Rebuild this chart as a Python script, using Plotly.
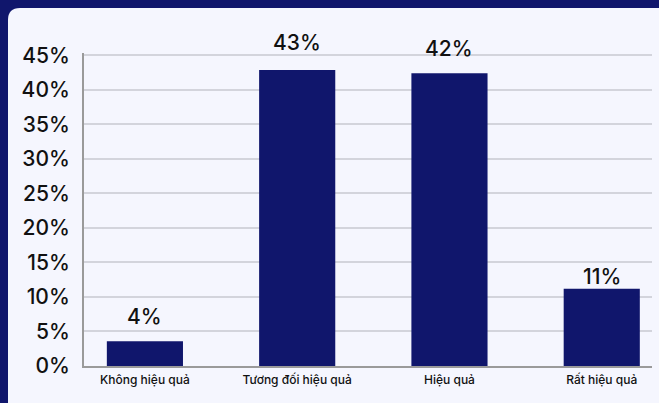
import plotly.graph_objects as go

# Survey results: perceived effectiveness
categories = ["Không hiệu quả", "Tương đối hiệu quả", "Hiệu quả", "Rất hiệu quả"]
shares = [3.6, 42.9, 42.4, 11.2]
tick_values = [0, 5, 10, 15, 20, 25, 30, 35, 40, 45]
tick_labels = [f"{v}%" for v in tick_values]

# label lift above each bar top, in pixels
label_lift = [25, 27, 25, 12]

NAVY = "#10166c"
PANEL = "#f5f6fe"
FONT = "Inter"

W, H = 659, 403
ML, MR, MT, MB = 84, 7, 53, 37

fig = go.Figure()
fig.add_trace(go.Bar(
    x=list(range(len(categories))),
    y=shares,
    width=0.5,
    marker=dict(color=NAVY, line=dict(width=0)),
    hoverinfo="skip",
))

for i, v in enumerate(shares):
    fig.add_annotation(
        x=i, y=v, xref="x", yref="y",
        text=f"{v:.0f}%",
        showarrow=False,
        yanchor="middle",
        yshift=label_lift[i],
        font=dict(family=FONT, size=21, color="#111111", weight=500),
    )

# light rounded panel behind the chart (paper coordinates)
pw, ph = W - ML - MR, H - MT - MB
def px(xp):
    return (xp - ML) / pw
def py(yp):
    return 1 - (yp - MT) / ph

x0, y0, x1, y1, r = 8, 8, W + 20, H + 20, 12
path = (
    f"M {px(x0)},{py(y0 + r)} "
    f"Q {px(x0)},{py(y0)} {px(x0 + r)},{py(y0)} "
    f"L {px(x1)},{py(y0)} L {px(x1)},{py(y1)} L {px(x0)},{py(y1)} Z"
)
fig.add_shape(type="path", path=path, xref="paper", yref="paper",
              fillcolor=PANEL, line=dict(width=0), layer="below")

fig.update_layout(
    width=W, height=H,
    margin=dict(l=ML, r=MR, t=MT, b=MB, pad=0),
    paper_bgcolor=NAVY,
    plot_bgcolor="rgba(0,0,0,0)",
    showlegend=False,
    bargap=0.5,
    font=dict(family=FONT, color="#111111"),
)
fig.update_xaxes(
    range=[-0.40, 3.33],
    tickmode="array",
    tickvals=list(range(len(categories))),
    ticktext=categories,
    tickfont=dict(family=FONT, size=12, color="#111111", weight=500),
    showgrid=False,
    showline=True, linecolor="#9a9a9a", linewidth=2,
    ticks="", ticklabelstandoff=2,
    zeroline=False, fixedrange=True,
)
fig.update_yaxes(
    range=[0, 45.35],
    tickmode="array",
    tickvals=tick_values,
    ticktext=tick_labels,
    tickfont=dict(family=FONT, size=21, color="#111111", weight=500),
    showgrid=True, gridcolor="#d3d4dc", gridwidth=1.5,
    showline=True, linecolor="#9a9a9a", linewidth=2,
    ticks="", ticklabelstandoff=8,
    zeroline=False, fixedrange=True,
)

fig.write_html("out.html", config={"displayModeBar": False})
